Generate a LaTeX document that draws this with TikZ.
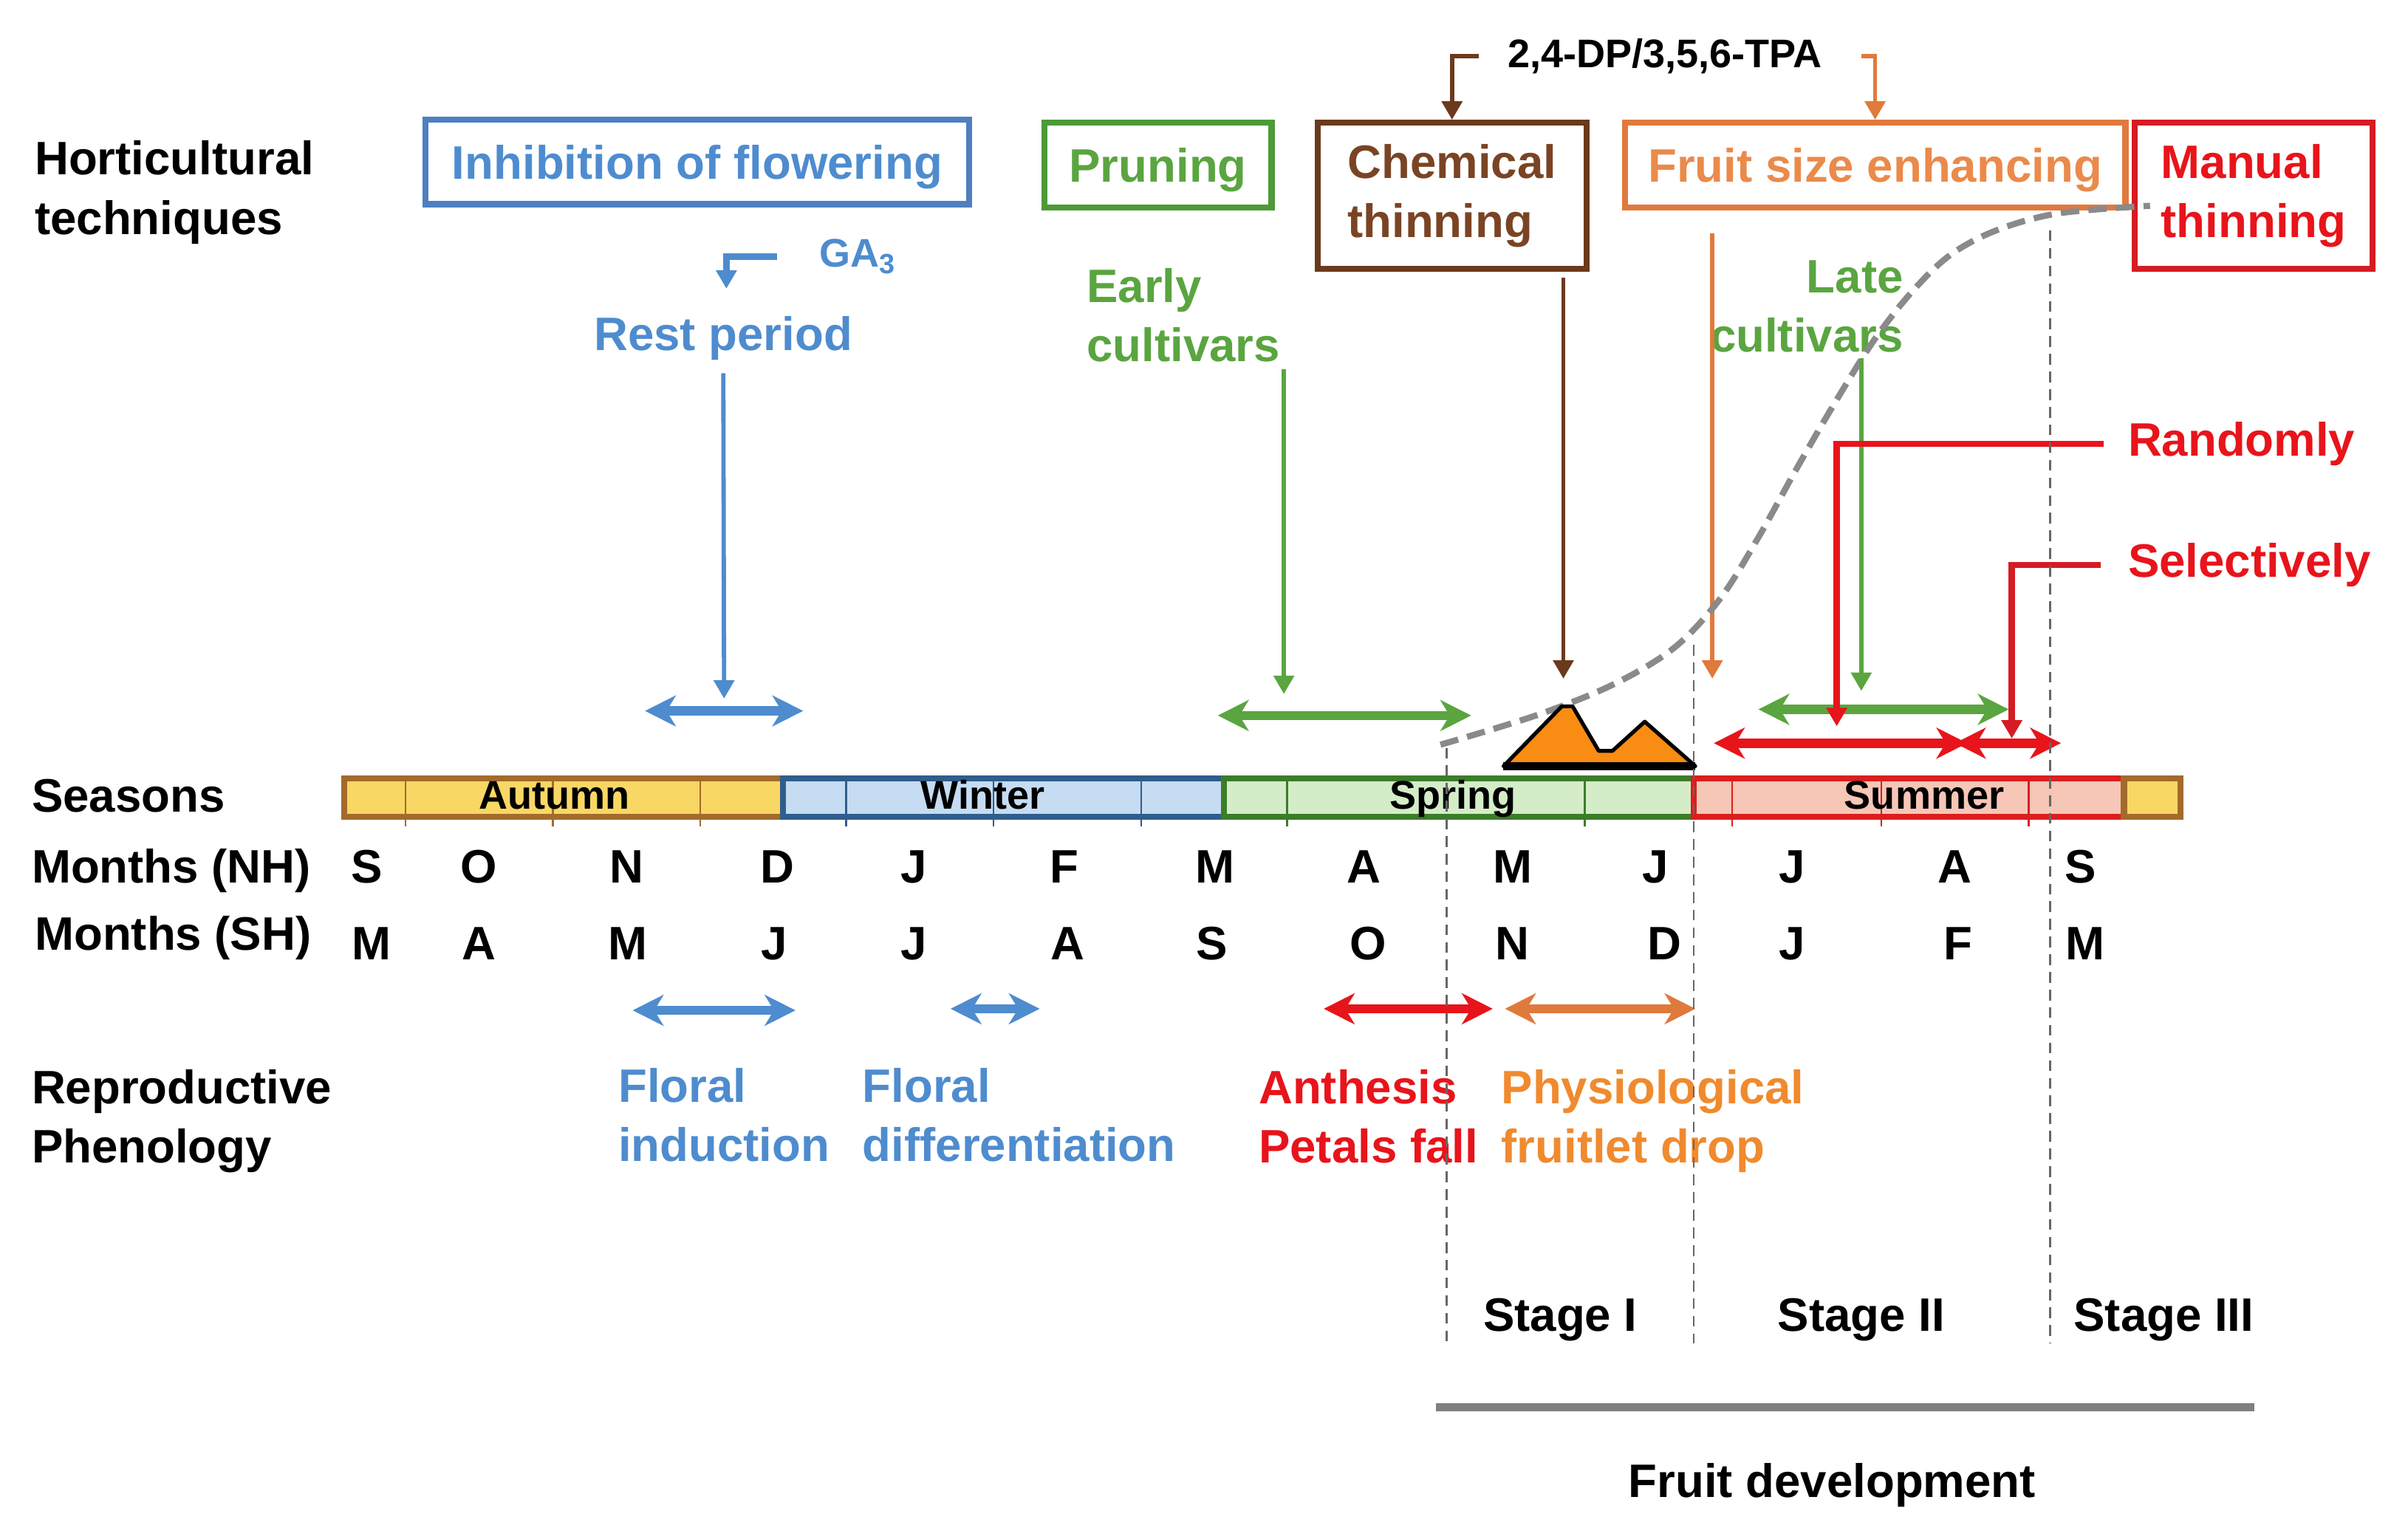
\documentclass[tikz,border=0pt]{standalone}
\usepackage{fontspec}
\setmainfont{Liberation Sans}
\usetikzlibrary{arrows.meta,calc}

\definecolor{techblue}{HTML}{4E8CCF}
\definecolor{techblueline}{HTML}{4F7FBF}
\definecolor{techgreen}{HTML}{5AA540}
\definecolor{techgreenline}{HTML}{4E9A38}
\definecolor{techbrown}{HTML}{7A4424}
\definecolor{techbrownline}{HTML}{6B3A1D}
\definecolor{techorange}{HTML}{EA8A4B}
\definecolor{techorangeline}{HTML}{E07A3C}
\definecolor{techred}{HTML}{E8141B}
\definecolor{techredline}{HTML}{D51C23}
\definecolor{dropcol}{HTML}{F08A2E}
\definecolor{peakcol}{HTML}{F98C12}
\definecolor{autfill}{HTML}{F9D764}
\definecolor{autline}{HTML}{A36B2B}
\definecolor{winfill}{HTML}{C5DCF3}
\definecolor{winline}{HTML}{2F5E8C}
\definecolor{sprfill}{HTML}{D4EDC8}
\definecolor{sprline}{HTML}{3B7D2A}
\definecolor{sumfill}{HTML}{F6C6B7}
\definecolor{sumline}{HTML}{DB1E1E}
\definecolor{curvegray}{HTML}{8A8A8A}

\tikzset{
  txt/.style={font=\bfseries\fontsize{8.7}{11}\selectfont, inner sep=0pt, align=left},
  smalltxt/.style={font=\bfseries\fontsize{7.4}{9}\selectfont, inner sep=0pt},
  techbox/.style={draw=#1, line width=0.4mm, txt, inner sep=0pt},
  onebox/.style={techbox=#1, text depth=0pt, minimum height=5.5mm},
  pointer/.style={line width=0.28mm, -{Triangle[width=1.3mm,length=1.2mm]}},
  span/.style={line width=0.6mm, {Stealth[width=2mm,length=2mm,inset=0.6mm]}-{Stealth[width=2mm,length=2mm,inset=0.6mm]}},
  stageline/.style={draw=black!60, line width=0.12mm, dash pattern=on 0.7mm off 0.45mm},
  season/.style={line width=0.4mm},
}

\begin{document}
\begin{tikzpicture}[x=0.1mm, y=-0.1mm]
	\useasboundingbox (0,0) rectangle (1568,995);

	\node[txt, anchor=north west] (hort) at (22,91) {Horticultural\\techniques};
	\node[txt, anchor=base west] (seasons) at (20,529) {Seasons};
	\node[txt, anchor=base west] (nh) at (20,575) {Months (NH)};
	\node[txt, anchor=base west] (sh) at (22,619) {Months (SH)};
	\node[txt, anchor=north west] (pheno) at (20,696) {Reproductive\\Phenology};

	\node[onebox=techblueline, text=techblue, minimum width=35.4mm] (inhib) at (454,105.5) {Inhibition of flowering};
	\node[onebox=techgreenline, text=techgreen, minimum width=14.8mm] (prun) at (754,107.5) {Pruning};
	\node[techbox=techbrownline, text=techbrown, minimum width=17.5mm, minimum height=9.5mm] (chem) at (945.5,127.5) {Chemical\\thinning};
	\node[onebox=techorangeline, text=techorange, minimum width=32.6mm] (fse) at (1221,107.5) {Fruit size enhancing};
	\node[techbox=techredline, text=techred, minimum width=15.5mm, minimum height=9.5mm] (manual) at (1467.5,127.5) {Manual\\thinning};

	\node[smalltxt, anchor=base west] (dp) at (981,44) {2,4-DP/3,5,6-TPA};
	\draw[pointer, techbrownline] ([xshift=-1.8mm]dp.west) -| (chem.north);
	\draw[pointer, techorangeline] ([xshift=2.5mm]dp.east) -| (fse.north);

	\node[smalltxt, text=techblue, anchor=base west] (ga) at (533,174) {GA\textsubscript{3}};
	\node[txt, text=techblue, anchor=base] (rest) at (471,228) {Rest period};
	\coordinate (gatip) at (473,188);
	\draw[pointer, techblue, line width=0.4mm] ([xshift=-2.7mm]ga.west) -| (gatip);

	\coordinate (restL) at (420,463);
	\coordinate (restR) at (523,463);
	\draw[pointer, techblue] ($(rest.south)+(0,8)$) -- ($(restL)!0.5!(restR)+(0,-8)$);
	\draw[span, techblue] (restL) -- (restR);

	\node[txt, text=techgreen, anchor=north west] (early) at (707,174) {Early\\cultivars};
	\coordinate (earlytip) at (836,452);
	\coordinate (earlyL) at (793,466);
	\coordinate (earlyR) at (958,466);
	\draw[pointer, techgreen] ($(earlytip |- early.south)+(0,4)$) -- (earlytip);

	\node[txt, text=techgreen, align=right, anchor=north east] (late) at (1240,169) {Late\\cultivars};
	\coordinate (latetip) at (1212,450);
	\coordinate (lateL) at (1145,462);
	\coordinate (lateR) at (1308,462);

	\coordinate (chemtip) at (1018,442);
	\draw[pointer, techbrownline] ($(chemtip |- chem.south)+(0,4)$) -- (chemtip);
	\coordinate (fsetip) at (1115,442);
	\draw[pointer, techorangeline] ($(fsetip |- fse.south)+(0,15)$) -- (fsetip);

	\draw[curvegray, line width=0.4mm, dash pattern=on 1.2mm off 0.6mm] plot[smooth, tension=0.55] coordinates {(938,485) (1000,466) (1050,446) (1090,422) (1120,390) (1145,350) (1170,305) (1195,262) (1220,222) (1245,190) (1270,166) (1300,150) (1340,139) (1400,134)};

	\draw[pointer, techgreen] ($(latetip |- late.south)+(0,3)$) -- (latetip);
	\draw[span, techgreen] (earlyL) -- (earlyR);
	\draw[span, techgreen] (lateL) -- (lateR);

	\node[txt, text=techred, anchor=base west] (rand) at (1385,297) {Randomly};
	\node[txt, text=techred, anchor=base west] (sel) at (1385,376) {Selectively};
	\coordinate (randtip) at (1196,473);
	\coordinate (seltip) at (1310,481);
	\coordinate (redA) at (1116,484);
	\coordinate (redB) at (1281,484);
	\coordinate (redC) at (1273,484);
	\coordinate (redD) at (1342,484);
	\draw[span, techred] (redA) -- (redB);
	\draw[span, techred] (redC) -- (redD);
	\draw[pointer, techred, line width=0.4mm] ([xshift=-1.5mm]rand.west) -| (randtip);
	\draw[pointer, techredline, line width=0.4mm] ([xshift=-1.7mm]sel.west) -| (seltip);

	\filldraw[fill=peakcol, draw=black, line width=0.25mm, line join=round] (979,499) -- (1017,460) -- (1024,460) -- (1041,489) -- (1050,489) -- (1071,470) -- (1104,499) -- cycle;
	\draw[black, line width=0.5mm] (979,499) -- (1104,499);

	\foreach \a/\b/\f/\l in {224/510/autfill/autline, 510/797/winfill/winline, 797/1103/sprfill/sprline, 1103/1383/sumfill/sumline, 1383/1420/autfill/autline}
		\draw[season, fill=\f, draw=\l] (\a,507) rectangle (\b,532);
	\foreach \t/\c in {264/autline, 360/autline, 456/autline, 551/winline, 647/winline, 743/winline, 838/sprline, 1032/sprline, 1128/sumline, 1225/sumline, 1321/sumline}
		\draw[\c, line width=0.12mm] (\t,509) -- (\t,538);

	\node[smalltxt, anchor=base] (autumn) at (361,527) {Autumn};
	\node[smalltxt, anchor=base] (winter) at (640,527) {Winter};
	\node[smalltxt, anchor=base] (spring) at (946,527) {Spring};
	\node[smalltxt, anchor=base] (summer) at (1253,527) {Summer};

	\foreach \x/\m in {239/S, 312/O, 408/N, 506/D, 595/J, 693/F, 791/M, 888/A, 985/M, 1078/J, 1167/J, 1273/A, 1355/S}
		\node[txt, anchor=base] (nh-\x) at (\x,575) {\m};
	\foreach \x/\m in {242/M, 312/A, 409/M, 504/J, 595/J, 695/A, 789/S, 891/O, 985/N, 1084/D, 1167/J, 1275/F, 1358/M}
		\node[txt, anchor=base] (sh-\x) at (\x,625) {\m};

	\coordinate (inductL) at (412,658);
	\coordinate (inductR) at (518,658);
	\coordinate (differL) at (619,657);
	\coordinate (differR) at (677,657);
	\coordinate (anthL) at (862,657);
	\coordinate (anthR) at (972,657);
	\coordinate (dropL) at (980,657);
	\coordinate (dropR) at (1104,657);
	\draw[span, techblue] (inductL) -- (inductR);
	\draw[span, techblue] (differL) -- (differR);
	\draw[span, techred] (anthL) -- (anthR);
	\draw[span, techorangeline] (dropL) -- (dropR);

	\node[txt, text=techblue, anchor=north west] (induct) at (402,695) {Floral\\induction};
	\node[txt, text=techblue, anchor=north west] (differ) at (561,695) {Floral\\differentiation};
	\node[txt, text=techred, anchor=north west] (anth) at (819,696) {Anthesis\\Petals fall};
	\node[txt, text=dropcol, anchor=north west] (drop) at (977,696) {Physiological\\fruitlet drop};

	\draw[stageline] (942,487) -- (942,875);
	\draw[stageline] (1103,420) -- (1103,875);
	\draw[stageline] (1335,150) -- (1335,875);

	\node[txt, anchor=base] (st1) at (1016,867) {Stage I};
	\node[txt, anchor=base] (st2) at (1212,867) {Stage II};
	\node[txt, anchor=base] (st3) at (1409,867) {Stage III};

	\coordinate (fdL) at (935,916.5);
	\coordinate (fdR) at (1468,916.5);
	\draw[black!50, line width=0.5mm] (fdL) -- (fdR);
	\node[txt, anchor=base] (fruitdev) at (1193,975) {Fruit development};
\end{tikzpicture}
\end{document}
